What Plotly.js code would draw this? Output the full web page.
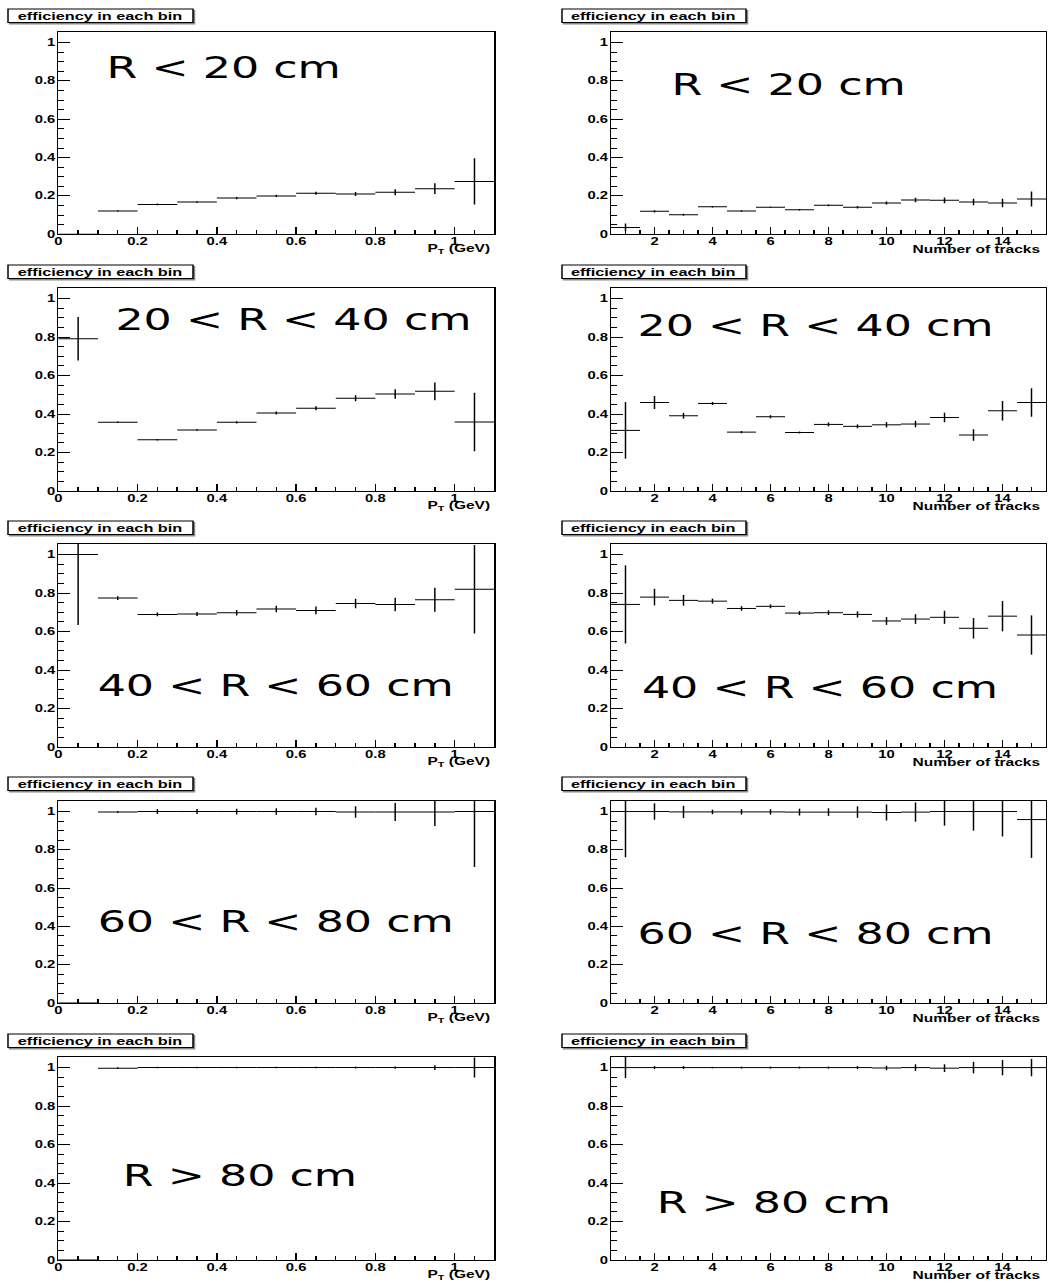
<!DOCTYPE html>
<html>
<head>
<meta charset="utf-8">
<script src="https://cdn.plot.ly/plotly-3.0.1.min.js"></script>
<style>
  html, body { margin: 0; padding: 0; background: #ffffff; overflow: hidden; }
  #wrap { width: 1050px; height: 1283px; overflow: hidden; }
  #plot { width: 710px; height: 1283px; transform: scaleX(1.478873); transform-origin: 0 0; }
</style>
</head>
<body>
<div id="wrap"><div id="plot"></div></div>
<script>
// ---------------- data ----------------
const ptCenters = [0.05, 0.15, 0.25, 0.35, 0.45, 0.55, 0.65, 0.75, 0.85, 0.95, 1.05];
const ptHalfWidth = 0.05;
const ntrkCenters = [1, 2, 3, 4, 5, 6, 7, 8, 9, 10, 11, 12, 13, 14, 15];
const ntrkHalfWidth = 0.5;

const regionLabels = ["R < 20 cm", "20 < R < 40 cm", "40 < R < 60 cm", "60 < R < 80 cm", "R > 80 cm"];
const panelTitle = "efficiency in each bin";
const ptAxisTitle = "P<sub>T</sub> (GeV)";
const ntrkAxisTitle = "Number of tracks";

// efficiency vs pT
const effPtR0_20   = [0.000, 0.122, 0.156, 0.168, 0.189, 0.200, 0.214, 0.210, 0.219, 0.238, 0.276];
const errPtR0_20   = [0.000, 0.003, 0.004, 0.004, 0.006, 0.006, 0.008, 0.010, 0.016, 0.028, 0.120];
const effPtR20_40  = [0.791, 0.357, 0.266, 0.317, 0.357, 0.405, 0.430, 0.482, 0.504, 0.518, 0.358];
const errPtR20_40  = [0.113, 0.004, 0.004, 0.004, 0.006, 0.008, 0.010, 0.016, 0.025, 0.046, 0.152];
const effPtR40_60  = [1.000, 0.774, 0.689, 0.691, 0.698, 0.717, 0.710, 0.746, 0.741, 0.765, 0.820];
const errPtR40_60  = [0.366, 0.010, 0.010, 0.010, 0.014, 0.017, 0.020, 0.025, 0.035, 0.062, 0.230];
const effPtR60_80  = [0.000, 0.997, 1.000, 1.000, 1.000, 1.000, 1.000, 0.998, 0.998, 0.998, 1.000];
const errPtR60_80  = [0.000, 0.005, 0.013, 0.013, 0.015, 0.017, 0.020, 0.030, 0.047, 0.073, 0.290];
const effPtR80     = [0.000, 0.997, 1.000, 1.000, 1.000, 1.000, 1.000, 1.000, 1.000, 1.000, 1.000];
const errPtR80     = [0.000, 0.005, 0.004, 0.004, 0.004, 0.004, 0.004, 0.005, 0.006, 0.012, 0.052];

// efficiency vs number of tracks
const effNtR0_20   = [0.036, 0.120, 0.102, 0.144, 0.122, 0.141, 0.128, 0.151, 0.141, 0.163, 0.179, 0.177, 0.168, 0.163, 0.184];
const errNtR0_20   = [0.020, 0.006, 0.005, 0.004, 0.004, 0.003, 0.004, 0.005, 0.006, 0.008, 0.012, 0.015, 0.017, 0.022, 0.039];
const effNtR20_40  = [0.315, 0.460, 0.391, 0.455, 0.306, 0.386, 0.304, 0.346, 0.336, 0.344, 0.348, 0.382, 0.291, 0.417, 0.460];
const errNtR20_40  = [0.147, 0.034, 0.015, 0.008, 0.006, 0.008, 0.005, 0.010, 0.010, 0.014, 0.017, 0.025, 0.030, 0.051, 0.074];
const effNtR40_60  = [0.741, 0.779, 0.762, 0.758, 0.720, 0.731, 0.696, 0.698, 0.689, 0.655, 0.665, 0.674, 0.617, 0.680, 0.582];
const errNtR40_60  = [0.203, 0.043, 0.028, 0.013, 0.012, 0.010, 0.010, 0.012, 0.016, 0.020, 0.025, 0.034, 0.053, 0.079, 0.102];
const effNtR60_80  = [1.000, 1.000, 0.998, 0.998, 0.998, 0.998, 0.997, 0.997, 0.997, 0.995, 0.997, 1.000, 1.000, 1.000, 0.958];
const errNtR60_80  = [0.239, 0.043, 0.032, 0.012, 0.014, 0.014, 0.018, 0.020, 0.030, 0.042, 0.050, 0.074, 0.100, 0.130, 0.200];
const effNtR80     = [1.000, 1.000, 1.000, 1.000, 1.000, 1.000, 1.000, 1.000, 1.000, 0.998, 1.000, 0.997, 1.000, 1.000, 1.000];
const errNtR80     = [0.055, 0.008, 0.008, 0.004, 0.005, 0.005, 0.005, 0.005, 0.008, 0.012, 0.017, 0.020, 0.030, 0.040, 0.045];

const ptRows   = [[effPtR0_20, errPtR0_20], [effPtR20_40, errPtR20_40], [effPtR40_60, errPtR40_60], [effPtR60_80, errPtR60_80], [effPtR80, errPtR80]];
const ntrkRows = [[effNtR0_20, errNtR0_20], [effNtR20_40, errNtR20_40], [effNtR40_60, errNtR40_60], [effNtR60_80, errNtR60_80], [effNtR80, errNtR80]];

// ---------------- layout helpers ----------------
const W = 710, H = 1283, SX = 1050 / 710;
const fx = x => x / SX / W;      // reference pixel x -> paper
const fy = y => 1 - y / H;       // reference pixel y -> paper

const colLeft  = [58.3, 494.3];
const colRight = [611, 1046];
const rowTop    = [32, 288, 544, 801, 1057];
const rowBottom = [234.3, 491, 747, 1003, 1260];
const boxTop = [9, 265, 521, 777, 1034];
const labelPos = [
  [[223.5, 68],  [788.5, 85]],
  [[294, 319],   [816, 325]],
  [[276, 685],   [820, 687]],
  [[276.5, 921], [816, 933]],
  [[239, 1175],  [773, 1202]]
];

const esc = s => s.replace(/</g, '&lt;').replace(/>/g, '&gt;');
const boldFont = { family: 'Liberation Sans, Arial, sans-serif', size: 10, color: '#000', weight: 'bold' };

const data = [];
const layout = {
  width: W, height: H,
  margin: { l: 0, r: 0, t: 0, b: 0, pad: 0 },
  paper_bgcolor: '#ffffff', plot_bgcolor: '#ffffff',
  showlegend: false,
  shapes: [], annotations: []
};

function axisCommon() {
  return {
    showline: true, mirror: true, linecolor: '#000', linewidth: 1,
    showgrid: false, zeroline: false,
    ticks: 'inside', tickcolor: '#000', tickwidth: 1,
    tickfont: boldFont, fixedrange: true
  };
}

for (let r = 0; r < 5; r++) {
  for (let c = 0; c < 2; c++) {
    const idx = r * 2 + c + 1;
    const xa = 'xaxis' + (idx === 1 ? '' : idx);
    const ya = 'yaxis' + (idx === 1 ? '' : idx);
    const xr = 'x' + (idx === 1 ? '' : idx);
    const yr = 'y' + (idx === 1 ? '' : idx);
    const col = c === 0 ? colLeft : colRight;

    const xAxis = Object.assign(axisCommon(), {
      domain: [fx(col[0]), fx(col[1])], anchor: yr,
      ticklen: 7, ticklabelstandoff: -2
    });
    if (c === 0) {
      Object.assign(xAxis, { range: [0, 1.1], tick0: 0, dtick: 0.2,
        minor: { dtick: 0.05, ticks: 'inside', ticklen: 4, tickcolor: '#000', showgrid: false } });
    } else {
      Object.assign(xAxis, { range: [0.5, 15.5], tick0: 0, dtick: 2,
        minor: { dtick: 0.5, ticks: 'inside', ticklen: 4, tickcolor: '#000', showgrid: false } });
    }
    const yAxis = Object.assign(axisCommon(), {
      domain: [fy(rowBottom[r]), fy(rowTop[r])], anchor: xr,
      range: [0, 1.055], tick0: 0, dtick: 0.2, ticklen: 8, ticklabelstandoff: -1,
      minor: { dtick: 0.05, ticks: 'inside', ticklen: 4, tickcolor: '#000', showgrid: false }
    });
    layout[xa] = xAxis;
    layout[ya] = yAxis;

    const rowData = c === 0 ? ptRows[r] : ntrkRows[r];
    const centers = c === 0 ? ptCenters : ntrkCenters;
    const half = c === 0 ? ptHalfWidth : ntrkHalfWidth;
    data.push({
      type: 'scatter', mode: 'markers', x: centers, y: rowData[0],
      xaxis: xr, yaxis: yr,
      marker: { size: 1, color: 'rgba(0,0,0,0)' },
      error_x: { type: 'constant', value: half, width: 0, thickness: 1, color: '#000' },
      error_y: { type: 'data', array: rowData[1], symmetric: true, width: 0, thickness: 1, color: '#000' },
      hoverinfo: 'skip'
    });

    // title box ("efficiency in each bin")
    const bx0 = c === 0 ? 8 : 562, bx1 = c === 0 ? 193 : 746;
    const by0 = boxTop[r], by1 = boxTop[r] + 13.5;
    layout.shapes.push({ type: 'rect', xref: 'paper', yref: 'paper',
      x0: fx(bx0 + 1.5), x1: fx(bx1 + 1.5), y0: fy(by1 + 1.5), y1: fy(by0 + 1.5),
      line: { color: '#888', width: 1 }, fillcolor: '#888', layer: 'above' });
    layout.shapes.push({ type: 'rect', xref: 'paper', yref: 'paper',
      x0: fx(bx0), x1: fx(bx1), y0: fy(by1), y1: fy(by0),
      line: { color: '#000', width: 1 }, fillcolor: '#fff', layer: 'above' });
    layout.annotations.push({ xref: 'paper', yref: 'paper', x: fx((bx0 + bx1) / 2), y: fy((by0 + by1) / 2),
      xanchor: 'center', yanchor: 'middle', showarrow: false, text: panelTitle,
      font: { family: 'Liberation Sans, Arial, sans-serif', size: 11, color: '#000', weight: 'bold' } });

    // axis title, right aligned
    layout.annotations.push({ xref: 'paper', yref: 'paper',
      x: fx(c === 0 ? 492.5 : 1044), y: fy(rowBottom[r] + 15),
      xanchor: 'right', yanchor: 'middle', showarrow: false,
      text: c === 0 ? ptAxisTitle : ntrkAxisTitle,
      font: { family: 'Liberation Sans, Arial, sans-serif', size: 10.5, color: '#000', weight: 'bold' } });

    // region label
    const lp = labelPos[r][c];
    layout.annotations.push({ xref: 'paper', yref: 'paper', x: fx(lp[0]), y: fy(lp[1]),
      xanchor: 'center', yanchor: 'middle', showarrow: false, text: esc(regionLabels[r]),
      font: { family: 'DejaVu Sans, sans-serif', size: 30, color: '#000' } });
  }
}

Plotly.newPlot('plot', data, layout, { staticPlot: true, displayModeBar: false });
</script>
</body>
</html>
